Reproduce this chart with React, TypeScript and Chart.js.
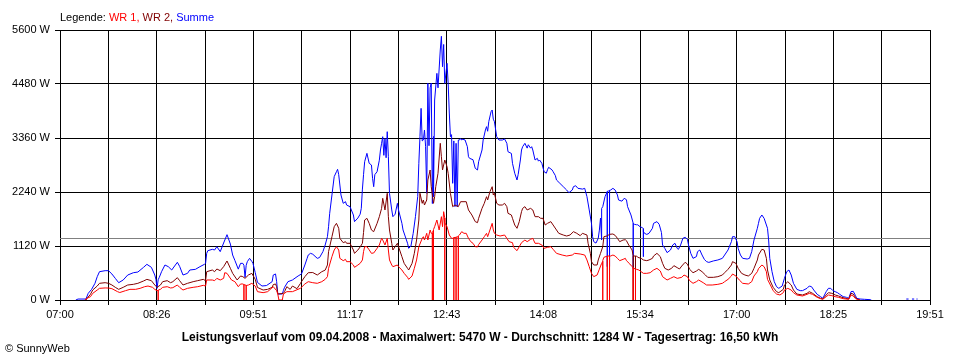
import { useEffect, useRef } from "react";
import { Chart, registerables } from "chart.js";

Chart.register(...registerables);

const legendTitle = "Legende:";
const seriesNames = ["WR 1", "WR 2", "Summe"];
const seriesColors = ["#ff0000", "#800000", "#0000ff"];
const xTickLabels = ["07:00", "08:26", "09:51", "11:17", "12:43", "14:08", "15:34", "17:00", "18:25", "19:51"];
const yTickValues = [0, 1120, 2240, 3360, 4480, 5600];
const averageWatt = 1284;
const footerText = "Leistungsverlauf vom 09.04.2008 - Maximalwert: 5470 W - Durchschnitt: 1284 W - Tagesertrag: 16,50 kWh";
const creditText = "\u00A9 SunnyWeb";

const wr1: [string, number][] = [
  ["07:22",0],["07:24",35],["07:27",69],["07:29",138],["07:33",207],["07:35",242],["07:40",250],["07:43",248],["07:46",235],["07:51",173],["07:53",155],["07:58",193],["08:02",221],["08:07",221],["08:11",242],["08:15",276],["08:18",290],["08:22",263],["08:24",221],["08:26",193],["08:27",200],["08:27",0],["08:27",205],["08:29",221],["08:31",263],["08:35",276],["08:38",249],["08:40",256],["08:44",311],["08:46",263],["08:49",207],["08:53",242],["08:58",263],["09:02",276],["09:07",304],["09:09",290],["09:10",415],["09:15",415],["09:17",401],["09:19",449],["09:22",415],["09:25",449],["09:26",566],["09:28",553],["09:29",518],["09:32",415],["09:35",380],["09:38",276],["09:40",332],["09:42",332],["09:43",320],["09:43",0],["09:43",318],["09:45",305],["09:45",0],["09:45",300],["09:47",311],["09:50",346],["09:53",290],["09:55",173],["10:00",152],["10:04",173],["10:09",276],["10:12",193],["10:13",124],["10:14",0],["10:17",0],["10:18",124],["10:21",173],["10:26",173],["10:33",242],["10:37",332],["10:40",380],["10:44",359],["10:48",346],["10:52",380],["10:55",428],["10:57",484],["10:58",657],["11:01",899],["11:03",1037],["11:05",1106],["11:07",1037],["11:08",864],["11:11",816],["11:13",843],["11:14",795],["11:17",795],["11:20",726],["11:21",677],["11:24",726],["11:26",760],["11:28",830],["11:29",1003],["11:30",1106],["11:32",1106],["11:34",1040],["11:36",968],["11:38",975],["11:41",1072],["11:43",1141],["11:45",1279],["11:46",1244],["11:48",1141],["11:50",1279],["11:51",1037],["11:52",830],["11:54",726],["11:55",691],["11:59",726],["12:00",691],["12:03",622],["12:05",553],["12:08",470],["12:09",428],["12:12",498],["12:14",657],["12:16",830],["12:18",1106],["12:21",1279],["12:22",1313],["12:23",1244],["12:25",1383],["12:26",1244],["12:28",1452],["12:29",1383],["12:30",1383],["12:30",0],["12:30",1400],["12:31",1450],["12:31",0],["12:31",1460],["12:32",1520],["12:34",1659],["12:36",1452],["12:38",1728],["12:39",1520],["12:40",1832],["12:41",1700],["12:41",0],["12:41",1600],["12:43",1520],["12:45",1348],["12:47",1279],["12:48",1279],["12:49",1290],["12:49",0],["12:49",1295],["12:51",1300],["12:51",0],["12:51",1305],["12:53",1313],["12:53",0],["12:53",1330],["12:54",1348],["12:56",1417],["12:58",1383],["13:00",1383],["13:02",1279],["13:04",1210],["13:06",1176],["13:08",1106],["13:10",1100],["13:11",1150],["13:14",1244],["13:16",1313],["13:18",1383],["13:19",1313],["13:21",1452],["13:23",1590],["13:24",1452],["13:25",1383],["13:27",1348],["13:30",1327],["13:34",1348],["13:36",1279],["13:38",1210],["13:41",1189],["13:42",1092],["13:45",1023],["13:47",1106],["13:49",1189],["13:52",1244],["13:54",1210],["13:57",1258],["13:59",1279],["14:01",1176],["14:04",1176],["14:07",1141],["14:09",1072],["14:12",1092],["14:15",1106],["14:17",1051],["14:20",968],["14:25",933],["14:29",912],["14:34",933],["14:36",968],["14:41",954],["14:45",933],["14:47",830],["14:49",691],["14:51",553],["14:53",484],["14:56",518],["14:58",640],["15:00",760],["15:01",800],["15:01",0],["15:01",820],["15:02",885],["15:05",912],["15:05",0],["15:05",912],["15:07",912],["15:07",0],["15:07",912],["15:08",912],["15:10",933],["15:12",912],["15:14",864],["15:16",816],["15:19",843],["15:21",864],["15:22",816],["15:25",746],["15:27",691],["15:28",671],["15:28",0],["15:28",660],["15:30",645],["15:30",0],["15:30",640],["15:31",636],["15:33",622],["15:37",553],["15:40",553],["15:43",566],["15:46",622],["15:49",657],["15:52",601],["15:54",484],["15:58",415],["16:01",449],["16:04",484],["16:07",449],["16:11",470],["16:13",518],["16:16",484],["16:18",401],["16:21",346],["16:24",380],["16:26",415],["16:30",359],["16:33",311],["16:38",311],["16:43",325],["16:47",346],["16:49",380],["16:52",428],["16:55",498],["16:56",539],["16:59",498],["17:02",415],["17:05",346],["17:10",332],["17:13",380],["17:15",498],["17:18",587],["17:19",650],["17:22",726],["17:24",691],["17:26",587],["17:27",428],["17:30",290],["17:32",193],["17:35",124],["17:38",104],["17:41",152],["17:42",207],["17:45",242],["17:48",207],["17:50",152],["17:53",104],["17:58",83],["18:02",117],["18:04",138],["18:07",117],["18:11",55],["18:14",28],["18:16",14],["18:19",69],["18:21",104],["18:24",90],["18:27",69],["18:30",55],["18:34",28],["18:39",14],["18:41",104],["18:43",83],["18:45",28],["18:47",7],["18:49",0]
];

const wr2: [string, number][] = [
  ["07:23",0],["07:24",35],["07:27",118],["07:29",207],["07:33",290],["07:35",346],["07:40",359],["07:43",346],["07:46",311],["07:49",263],["07:52",221],["07:56",263],["08:00",311],["08:05",325],["08:09",346],["08:14",394],["08:17",428],["08:21",401],["08:24",311],["08:26",263],["08:29",311],["08:31",380],["08:35",401],["08:38",359],["08:40",380],["08:44",463],["08:46",401],["08:49",311],["08:53",346],["08:58",380],["09:02",401],["09:07",428],["09:09",401],["09:10",587],["09:15",622],["09:17",587],["09:19",643],["09:22",608],["09:25",691],["09:28",809],["09:31",657],["09:33",553],["09:37",415],["09:40",498],["09:42",484],["09:44",449],["09:47",518],["09:50",553],["09:53",430],["09:55",260],["10:00",207],["10:04",221],["10:08",263],["10:09",320],["10:11",332],["10:12",276],["10:13",124],["10:18",138],["10:19",173],["10:21",276],["10:24",221],["10:26",290],["10:30",235],["10:33",340],["10:34",380],["10:37",484],["10:40",566],["10:44",570],["10:48",518],["10:52",587],["10:55",620],["10:57",726],["10:58",1003],["11:01",1313],["11:03",1520],["11:05",1590],["11:07",1487],["11:08",1279],["11:11",1189],["11:13",1210],["11:14",1176],["11:17",1176],["11:20",1037],["11:21",968],["11:24",1037],["11:26",1100],["11:28",1176],["11:29",1400],["11:30",1659],["11:32",1694],["11:34",1590],["11:36",1452],["11:38",1417],["11:41",1590],["11:43",1728],["11:45",1901],["11:46",2109],["11:48",1867],["11:50",2213],["11:51",1728],["11:52",1452],["11:54",1176],["11:55",1037],["11:57",1106],["11:59",1176],["12:00",1106],["12:03",898],["12:05",760],["12:08",657],["12:09",622],["12:12",760],["12:14",968],["12:16",1244],["12:18",1659],["12:19",2213],["12:21",2005],["12:22",2074],["12:23",1970],["12:25",2074],["12:26",2489],["12:28",2696],["12:29",2350],["12:31",2005],["12:32",2143],["12:33",2350],["12:35",2628],["12:37",3250],["12:38",2972],["12:39",2696],["12:41",2904],["12:43",2765],["12:44",2628],["12:46",2213],["12:48",1936],["12:50",1970],["12:53",1936],["12:55",2039],["13:00",2039],["13:02",1867],["13:05",1763],["13:08",1625],["13:10",1604],["13:11",1694],["13:14",1901],["13:16",2005],["13:18",2143],["13:19",2074],["13:21",2247],["13:23",2350],["13:24",2178],["13:25",2213],["13:27",2005],["13:29",1970],["13:32",1970],["13:34",2005],["13:36",1936],["13:37",1798],["13:40",1763],["13:41",1694],["13:43",1555],["13:45",1487],["13:47",1625],["13:49",1832],["13:50",1901],["13:52",1936],["13:54",1867],["13:57",1901],["13:59",1867],["14:01",1728],["14:04",1728],["14:06",1694],["14:08",1694],["14:10",1555],["14:12",1590],["14:15",1625],["14:17",1555],["14:20",1452],["14:22",1383],["14:26",1348],["14:29",1327],["14:32",1348],["14:35",1417],["14:38",1383],["14:41",1334],["14:43",1383],["14:47",1348],["14:48",1176],["14:50",968],["14:51",795],["14:53",726],["14:56",726],["14:57",830],["14:59",968],["15:01",1106],["15:02",1313],["15:05",1330],["15:07",1362],["15:10",1369],["15:12",1340],["15:14",1279],["15:16",1210],["15:19",1244],["15:21",1250],["15:22",1230],["15:24",1141],["15:27",1037],["15:28",912],["15:28",0],["15:28",912],["15:30",912],["15:30",0],["15:30",912],["15:31",912],["15:32",885],["15:35",864],["15:37",830],["15:40",816],["15:42",830],["15:45",864],["15:46",912],["15:49",968],["15:52",899],["15:54",760],["15:56",657],["15:59",622],["16:02",657],["16:04",712],["16:07",671],["16:09",643],["16:11",705],["16:14",782],["16:16",746],["16:18",636],["16:21",566],["16:24",601],["16:26",636],["16:29",587],["16:32",518],["16:34",470],["16:39",470],["16:43",484],["16:47",518],["16:49",566],["16:52",636],["16:55",726],["16:56",795],["16:59",760],["17:01",657],["17:04",553],["17:07",518],["17:10",498],["17:13",553],["17:15",657],["17:18",830],["17:19",933],["17:22",1051],["17:24",1037],["17:26",864],["17:27",622],["17:29",415],["17:32",263],["17:35",173],["17:37",152],["17:41",221],["17:42",311],["17:45",380],["17:48",311],["17:50",207],["17:53",124],["17:58",104],["18:02",138],["18:04",173],["18:07",138],["18:11",69],["18:14",35],["18:16",21],["18:19",104],["18:21",152],["18:24",138],["18:27",104],["18:30",83],["18:33",55],["18:36",35],["18:39",21],["18:41",138],["18:43",124],["18:45",48],["18:47",14],["18:49",0]
];

const summe: [string, number | null][] = [
  ["07:14",0],["07:16",20],["07:23",20],["07:25",138],["07:28",221],["07:31",346],["07:33",484],["07:35",587],["07:40",608],["07:43",608],["07:46",539],["07:49",449],["07:52",359],["07:56",415],["08:00",518],["08:05",566],["08:09",580],["08:14",677],["08:17",740],["08:21",677],["08:24",518],["08:25",430],["08:26",242],["08:27",420],["08:28",470],["08:30",587],["08:33",726],["08:36",691],["08:39",622],["08:44",782],["08:46",698],["08:49",518],["08:53",553],["08:55",622],["09:00",636],["09:04",691],["09:08",740],["09:09",760],["09:10",968],["09:11",1023],["09:15",1051],["09:17",1037],["09:19",1106],["09:22",1003],["09:25",1182],["09:28",1355],["09:31",1160],["09:33",933],["09:35",820],["09:38",640],["09:40",760],["09:42",760],["09:43",720],["09:44",470],["09:45",720],["09:46",795],["09:48",864],["09:50",800],["09:51",760],["09:53",570],["09:55",365],["09:59",290],["10:03",300],["10:08",380],["10:09",518],["10:11",540],["10:12",380],["10:13",124],["10:17",124],["10:18",200],["10:19",263],["10:22",380],["10:26",415],["10:31",498],["10:34",540],["10:37",726],["10:39",864],["10:40",933],["10:42",968],["10:44",950],["10:48",864],["10:50",880],["10:53",1003],["10:55",1141],["10:57",1313],["10:58",1520],["10:59",1798],["11:01",2178],["11:03",2558],["11:05",2661],["11:06",2710],["11:07",2600],["11:09",2178],["11:11",2005],["11:13",2040],["11:14",1970],["11:17",1936],["11:20",1763],["11:21",1625],["11:24",1700],["11:26",1780],["11:27",1901],["11:28",2300],["11:29",2600],["11:30",2869],["11:32",3042],["11:34",2835],["11:36",2800],["11:37",2524],["11:38",2350],["11:39",2600],["11:41",2661],["11:43",2900],["11:44",3111],["11:45",3250],["11:46",3387],["11:47",3000],["11:48",3350],["11:49",2950],["11:50",3491],["11:51",2972],["11:52",2213],["11:54",1867],["11:55",1728],["11:57",1780],["11:59",2005],["12:00",1867],["12:03",1590],["12:04",1452],["12:08",1176],["12:09",1072],["12:11",1120],["12:13",1383],["12:15",1728],["12:17",2143],["12:18",2835],["12:19",3387],["12:20",3975],["12:21",3300],["12:22",3318],["12:23",3526],["12:24",3180],["12:25",2213],["12:26",4494],["12:27",3200],["12:28",4400],["12:29",4500],["12:30",2000],["12:31",3387],["12:31",2143],["12:32",4148],["12:34",4701],["12:35",4400],["12:37",5185],["12:38",5470],["12:39",4839],["12:40",5300],["12:41",4494],["12:43",4909],["12:44",4494],["12:45",3878],["12:46",3387],["12:47",3430],["12:48",2420],["12:49",3300],["12:50",1936],["12:51",3250],["12:52",1936],["12:53",3318],["12:54",3318],["12:55",3350],["12:56",3318],["12:57",3335],["12:59",3318],["13:01",3180],["13:02",2972],["13:03",2938],["13:06",2910],["13:08",2731],["13:10",2696],["13:11",2869],["13:14",3111],["13:15",3318],["13:17",3526],["13:18",3595],["13:19",3500],["13:20",3700],["13:22",3906],["13:23",3941],["13:24",3750],["13:25",3698],["13:27",3387],["13:29",3318],["13:32",3318],["13:34",3340],["13:36",3250],["13:37",3076],["13:40",3040],["13:41",2835],["13:43",2628],["13:45",2489],["13:46",2600],["13:48",2904],["13:49",3111],["13:50",3180],["13:52",3250],["13:54",3150],["13:55",3220],["13:57",3150],["13:58",3180],["13:59",3111],["14:01",2904],["14:03",2938],["14:04",2880],["14:05",2904],["14:07",2835],["14:09",2661],["14:11",2630],["14:12",2700],["14:13",2752],["14:16",2700],["14:17",2661],["14:19",2580],["14:20",2489],["14:23",2420],["14:26",2350],["14:29",2281],["14:31",2226],["14:34",2281],["14:35",2350],["14:37",2370],["14:39",2316],["14:43",2300],["14:45",2316],["14:47",2143],["14:49",1867],["14:51",1590],["14:52",1313],["14:53",1210],["14:55",1180],["14:57",1280],["14:58",1450],["14:59",1700],["15:00",1244],["15:00",1900],["15:01",1936],["15:03",2143],["15:05",2247],["15:05",691],["15:05",2255],["15:06",2260],["15:07",2270],["15:07",691],["15:07",2275],["15:08",2281],["15:10",2316],["15:12",2280],["15:14",2178],["15:15",2074],["15:18",2050],["15:20",2109],["15:22",2080],["15:23",1936],["15:26",1763],["15:28",1590],["15:28",657],["15:28",1580],["15:29",1570],["15:31",1560],["15:32",1560],["15:34",1520],["15:36",1500],["15:37",1480],["15:37",898],["15:37",1420],["15:38",1383],["15:40",1360],["15:42",1383],["15:45",1487],["15:46",1590],["15:49",1625],["15:51",1570],["15:53",1400],["15:54",1141],["15:56",1070],["15:58",982],["16:01",1037],["16:03",1141],["16:05",1176],["16:07",1070],["16:08",1050],["16:10",1141],["16:12",1279],["16:14",1300],["16:16",1260],["16:17",1140],["16:19",968],["16:21",864],["16:24",900],["16:25",1003],["16:27",1037],["16:29",933],["16:31",843],["16:33",795],["16:35",780],["16:39",810],["16:43",830],["16:47",864],["16:49",933],["16:52",1037],["16:55",1210],["16:56",1313],["16:58",1313],["17:00",1210],["17:01",1070],["17:03",933],["17:05",864],["17:09",850],["17:11",864],["17:13",1003],["17:15",1244],["17:18",1487],["17:19",1590],["17:20",1694],["17:22",1763],["17:24",1694],["17:27",1487],["17:28",1244],["17:29",864],["17:31",587],["17:33",380],["17:35",276],["17:37",242],["17:40",290],["17:42",449],["17:44",587],["17:46",622],["17:48",518],["17:50",346],["17:53",221],["17:56",194],["17:58",194],["18:02",242],["18:04",290],["18:06",276],["18:08",207],["18:11",118],["18:14",70],["18:16",35],["18:19",173],["18:21",242],["18:23",242],["18:25",194],["18:27",173],["18:29",152],["18:31",118],["18:34",70],["18:37",55],["18:39",35],["18:41",173],["18:43",180],["18:45",90],["18:46",35],["18:49",20],["18:53",14],["18:58",7],["18:59",0],["19:00",null],["19:30",20],["19:32",20],["19:33",null],["19:35",20],["19:37",20],["19:38",null],["19:39",20],["19:40",20]
];

const FONT = '"Liberation Sans", Arial, sans-serif';

function toMinutes(s: string): number {
  const [h, m] = s.split(":").map(Number);
  const [h0, m0] = xTickLabels[0].split(":").map(Number);
  return h * 60 + m - (h0 * 60 + m0);
}

function toPoints(rows: [string, number | null][]) {
  return rows.map(([t, v]) => ({ x: toMinutes(t), y: v }));
}

const overlayPlugin = {
  id: "overlay",
  beforeDatasetsDraw(chart: any) {
    const { ctx, chartArea, scales } = chart;
    const py = Math.round(scales.y.getPixelForValue(averageWatt)) + 0.5;
    ctx.save();
    ctx.strokeStyle = "#808080";
    ctx.lineWidth = 1;
    ctx.beginPath();
    ctx.moveTo(chartArea.left, py);
    ctx.lineTo(chartArea.right, py);
    ctx.stroke();
    ctx.restore();
  },
  afterDraw(chart: any) {
    const { ctx, chartArea, width } = chart;
    ctx.save();
    ctx.textBaseline = "alphabetic";
    ctx.font = `11px ${FONT}`;
    let x = chartArea.left;
    const ly = chartArea.top - 9;
    ctx.fillStyle = "#000";
    ctx.textAlign = "left";
    const head = legendTitle + " ";
    ctx.fillText(head, x, ly);
    x += ctx.measureText(head).width;
    seriesNames.forEach((n, i) => {
      const s = n + (i < seriesNames.length - 1 ? ", " : "");
      ctx.fillStyle = seriesColors[i];
      ctx.fillText(s, x, ly);
      x += ctx.measureText(s).width;
    });
    ctx.fillStyle = "#000";
    ctx.font = `bold 12px ${FONT}`;
    ctx.textAlign = "center";
    ctx.fillText(footerText, width / 2, chartArea.bottom + 41);
    ctx.font = `11px ${FONT}`;
    ctx.textAlign = "left";
    ctx.fillText(creditText, 5, chartArea.bottom + 52);
    ctx.restore();
  },
};

export default function App() {
  const ref = useRef<HTMLCanvasElement | null>(null);
  useEffect(() => {
    if (!ref.current) return;
    const xMax = toMinutes(xTickLabels[xTickLabels.length - 1]);
    const stepCount = (xTickLabels.length - 1) * 2;
    const mk = (label: string, color: string, rows: [string, number | null][]) => ({
      label,
      data: toPoints(rows),
      borderColor: color,
      backgroundColor: color,
      borderWidth: 1,
      pointRadius: 0,
      tension: 0,
      fill: false,
      spanGaps: false,
    });
    const chart = new Chart(ref.current, {
      type: "line",
      data: {
        datasets: [
          mk(seriesNames[0], seriesColors[0], wr1),
          mk(seriesNames[1], seriesColors[1], wr2),
          mk(seriesNames[2], seriesColors[2], summe),
        ],
      },
      options: {
        animation: false,
        responsive: false,
        devicePixelRatio: 1,
        layout: { padding: { top: 30, right: 30, left: 0, bottom: 0 } },
        plugins: { legend: { display: false }, tooltip: { enabled: false }, title: { display: false } },
        scales: {
          x: {
            type: "linear",
            min: 0,
            max: xMax,
            afterBuildTicks: (s: any) => {
              s.ticks = Array.from({ length: stepCount + 1 }, (_, i) => ({ value: (i * xMax) / stepCount }));
            },
            afterFit: (s: any) => {
              s.height = 60;
            },
            grid: { color: "#000", lineWidth: 1, tickLength: 5, tickColor: "#000", drawTicks: true },
            border: { color: "#000", width: 1 },
            ticks: {
              autoSkip: false,
              maxRotation: 0,
              minRotation: 0,
              padding: 3,
              color: "#000",
              font: { family: FONT, size: 11 },
              callback: (_v: any, i: number) => (i % 2 === 0 ? xTickLabels[i / 2] : ""),
            },
          },
          y: {
            type: "linear",
            min: yTickValues[0],
            max: yTickValues[yTickValues.length - 1],
            afterBuildTicks: (s: any) => {
              s.ticks = yTickValues.map((v) => ({ value: v }));
            },
            afterFit: (s: any) => {
              s.width = 60;
            },
            grid: { color: "#000", lineWidth: 1, tickLength: 5, tickColor: "#000", drawTicks: true },
            border: { color: "#000", width: 1 },
            ticks: {
              padding: 5,
              color: "#000",
              font: { family: FONT, size: 11 },
              callback: (v: any) => `${v} W`,
            },
          },
        },
      },
      plugins: [overlayPlugin],
    } as any);
    return () => chart.destroy();
  }, []);
  return (
    <div style={{ position: "fixed", left: 0, top: 0, width: 960, height: 360, background: "#fff" }}>
      <canvas ref={ref} width={960} height={360} style={{ width: 960, height: 360, display: "block" }} />
    </div>
  );
}
